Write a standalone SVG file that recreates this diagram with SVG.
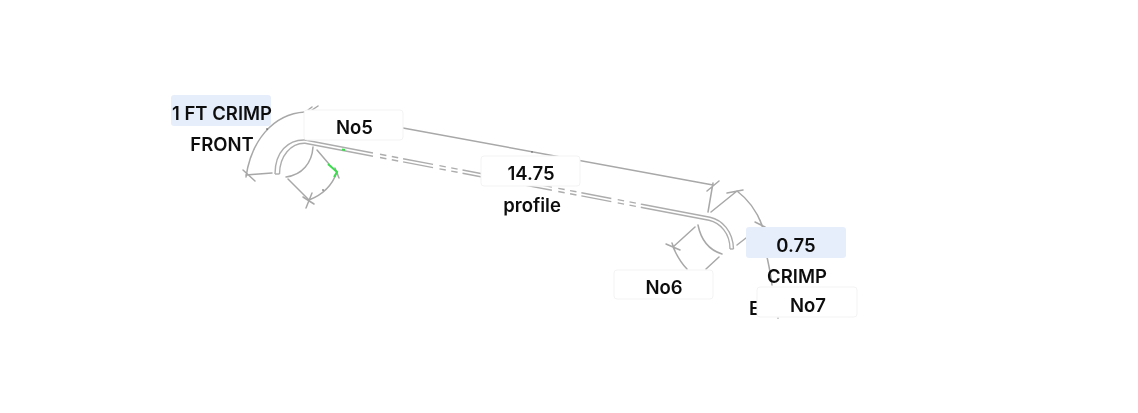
<svg xmlns="http://www.w3.org/2000/svg" width="1138" height="413" viewBox="0 0 1138 413">
<style>
.bg{fill:#ffffff}
.dim{fill:none;stroke:#a8a8a8;stroke-width:1.5;stroke-linecap:round}
.rail{fill:none;stroke:#adadad;stroke-width:1.4}
.dash{stroke-dasharray:6.500 5.500 6.500 5 30.500 6.500}
.green{fill:none;stroke:#3ddc4f;stroke-width:2}
.dot{fill:#444}
.box{fill:#fff;stroke:#f3f3f3;stroke-width:1}
.hl{fill:#e7eefb}
.soft{filter:url(#soft)}
text{font-family:"Inter","Liberation Sans",sans-serif;font-size:18.500px;font-weight:600;fill:#111111;text-anchor:middle}
</style>
<defs><filter id="soft" x="-5%" y="-5%" width="110%" height="110%"><feGaussianBlur stdDeviation="0.350"/></filter></defs>
<rect class="bg" width="1138" height="413"/>
<g id="connectors" class="soft">
<g id="profile">
<path class="rail" d="M275 174 C275 152 288 139.500 305 140 L373 153"/>
<path class="rail" d="M279.500 174 C279.500 156 291 142.800 305 143.200 L373 156.200"/>
<path class="rail dash" d="M380 154.300 L643 204.500"/>
<path class="rail dash" d="M380 157.500 L643 207.700"/>
<path class="rail" d="M643 204.500 L710 217.300 C722 220 733 231 733.500 249"/>
<path class="rail" d="M643 207.700 L709 220.300 C720 223 730 233 730 249"/>
<path class="rail" d="M730 249 L733.500 249"/>
<path class="rail" d="M275 174 L279.500 174"/>
</g>
<path class="dim" d="M246 177 C251 142 272 114 305 112"/>
<path class="dim" d="M243 170 L255 181 M246 175 L272 173 M308 110 L312 107 M312 110 L318 106"/>
<path class="dim" d="M313 147 C312 163 302 175 286 177"/>
<path class="dim" d="M288 179 L309 200 M317 150 L329 164 M337 172 C332 186 322 195 309 200"/>
<path class="dim" d="M306 208 L312 193 M303 197 L314 204 M335 168 L339 178"/>
<path class="green" d="M328 164 L337 172 L334 177 M342 149.500 L345 150"/>
<circle class="dot" cx="267" cy="129" r="0.800"/>
<circle class="dot" cx="323" cy="190" r="0.800"/>
<path class="dim" d="M403 128 L713 185 M707 191 L719 181 M713 183 L708 212"/>
<circle class="dot" cx="532" cy="152" r="0.700"/>
<path class="dim" d="M711 212 L737 191 M727 193 L743 190 M737 191 C749 200 757 212 762 225 M755 222 L765 227 M760 220 L763 229"/>
<path class="dim" d="M737 245 L746 238"/>
<path class="dim" d="M698 225 C701 240 709 250 722 254"/>
<path class="dim" d="M695 227 L673 247 M666 244 L680 250 M672 243 L675 251 M673 247 C677 256 681 263 687 269 M719 257 L706 269"/>
<path class="dim" d="M767 257 C769 266 771 276 772 285"/>
<circle class="dot" cx="778" cy="318" r="0.600"/>
</g>
<g id="node-crimp-front">
<rect class="hl" x="171" y="95" width="100" height="31" rx="3"/>
<text class="soft" x="222" y="120">1 FT CRIMP</text>
<text class="soft" x="222" y="151">FRONT</text>
</g>
<g id="node-no5">
<rect class="box" x="304" y="110" width="99" height="30" rx="3"/>
<text class="soft" x="354.500" y="134">No5</text>
</g>
<g id="node-1475">
<rect class="box" x="481" y="156" width="99" height="30" rx="3"/>
<text class="soft" x="531" y="180">14.75</text>
<text class="soft" x="532" y="212">profile</text>
</g>
<g id="node-no6">
<rect class="box" x="614" y="270" width="99" height="29" rx="3"/>
<text class="soft" x="664" y="294">No6</text>
</g>
<g id="node-075">
<rect class="hl" x="746" y="227" width="100" height="31" rx="3"/>
<text class="soft" x="796" y="252">0.75</text>
<text class="soft" x="797" y="283">CRIMP</text>
</g>
<g id="node-no7">
<text class="soft" x="749" y="315" style="text-anchor:start">E</text>
<rect class="box" x="757" y="287" width="100" height="30" rx="3"/>
<text class="soft" x="808" y="312">No7</text>
</g>
</svg>
